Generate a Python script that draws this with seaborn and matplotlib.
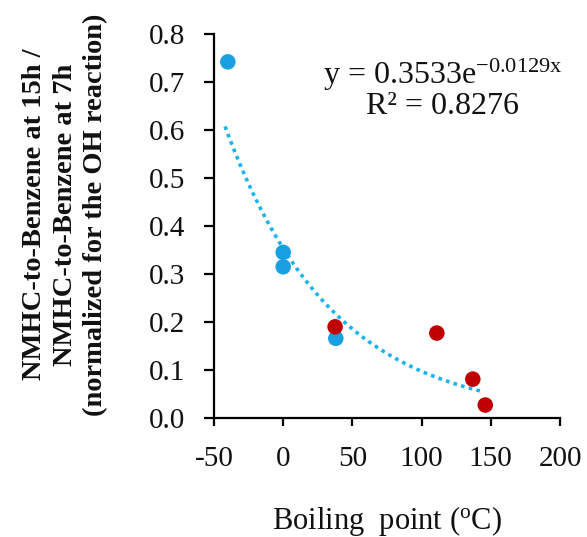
import numpy as np
import pandas as pd
import matplotlib
matplotlib.use("Agg")
import matplotlib.pyplot as plt
import seaborn as sns

# Data
blue_bp = [-40, 0, 0, 38]
blue_ratio = [0.742, 0.345, 0.315, 0.166]
red_bp = [37.5, 111, 137, 146]
red_ratio = [0.19, 0.177, 0.081, 0.027]

# Exponential trendline coefficients (from the chart annotation)
fit_a = 0.3533
fit_b = -0.0129
fit_r2 = 0.8276
fit_x_range = [-42, 143]

x_ticks = [-50, 0, 50, 100, 150, 200]
y_ticks = [0.0, 0.1, 0.2, 0.3, 0.4, 0.5, 0.6, 0.7, 0.8]

sns.set_theme(style="ticks")
plt.rcParams['font.family'] = ['Liberation Serif', 'DejaVu Serif']
plt.rcParams['mathtext.fontset'] = 'custom'
plt.rcParams['mathtext.rm'] = 'Liberation Serif'
plt.rcParams['mathtext.it'] = 'Liberation Serif'

df = pd.DataFrame({
    "bp": blue_bp + red_bp,
    "ratio": blue_ratio + red_ratio,
    "group": ["blue"] * len(blue_bp) + ["red"] * len(red_bp),
})

fig = plt.figure(figsize=(5.87, 5.37), dpi=100)
ax = fig.add_axes([214/587, 1 - 418/537, (560 - 214)/587, (418 - 34)/537])

# trendline
xs = np.linspace(fit_x_range[0], fit_x_range[1], 200)
ys = fit_a * np.exp(fit_b * xs)
sns.lineplot(x=xs, y=ys, ax=ax, color="#19b4ee", linestyle=(0, (1, 1.2)),
             linewidth=2.6, zorder=2)

sns.scatterplot(data=df, x="bp", y="ratio", hue="group",
                palette={"blue": "#1a9fe0", "red": "#c00000"},
                s=125, edgecolor="none", legend=False, ax=ax, zorder=3)

ax.set_xlim(-50, 200)
ax.set_ylim(0, 0.8)
ax.set_xticks(x_ticks)
ax.set_xticklabels([str(t) for t in x_ticks])
ax.set_yticks(y_ticks)
ax.set_yticklabels([f"{t:.1f}" for t in y_ticks])
ax.tick_params(axis="both", labelsize=21, color="black", width=1.6,
               direction="out", labelcolor="#111111")
ax.tick_params(axis="x", pad=14, length=6)
ax.tick_params(axis="y", pad=13.5, length=7.5)
for s in ["top", "right"]:
    ax.spines[s].set_visible(False)
for s in ["left", "bottom"]:
    ax.spines[s].set_color("black")
    ax.spines[s].set_linewidth(1.6)

ax.set_xlabel("Boiling  point (${}^{\\mathrm{o}}$C)", fontsize=22, labelpad=23,
              color="#111111")
ax.set_ylabel("NMHC-to-Benzene at 15h /\nNMHC-to-Benzene at 7h\n(normalized for the OH reaction)",
              fontsize=20.5, fontweight="bold", color="#111111",
              linespacing=1.3)
ax.yaxis.set_label_coords(-0.305, 0.53)

ax.text(0.662, 0.893,
        f"y = {fit_a}e$^{{{fit_b}x}}$",
        transform=ax.transAxes, ha="center", va="center", fontsize=23, color="#111111")
ax.text(0.66, 0.81, f"R² = {fit_r2}", transform=ax.transAxes,
        ha="center", va="center", fontsize=23, color="#111111")

fig.savefig("out.png", dpi=100)
